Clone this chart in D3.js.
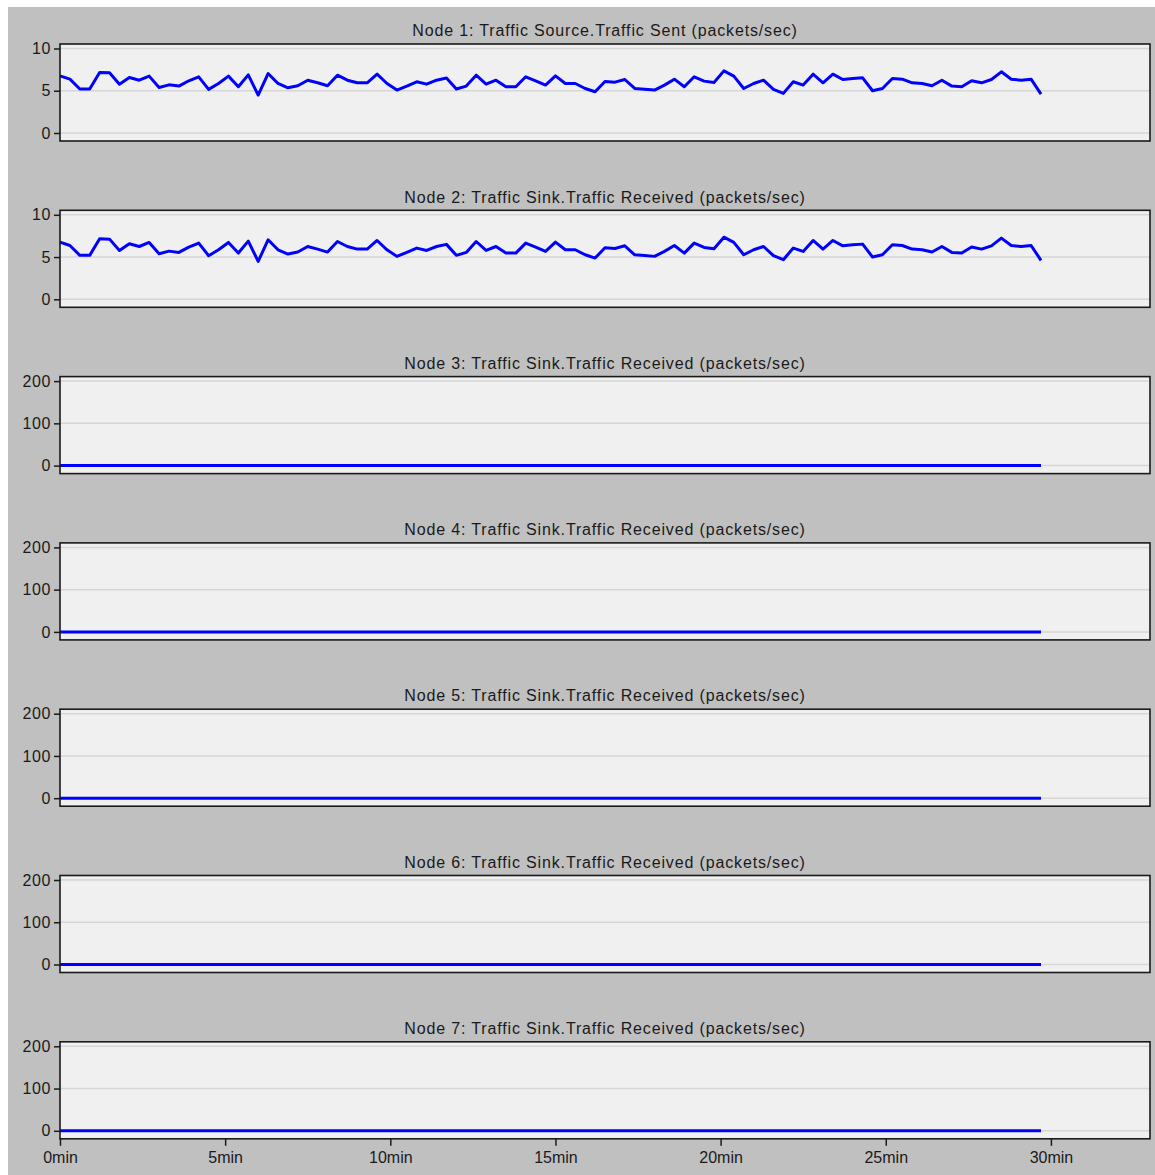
<!DOCTYPE html>
<html>
<head>
<meta charset="utf-8">
<script src="https://cdn.jsdelivr.net/npm/d3@7"></script>
<style>
  html, body { margin: 0; padding: 0; background: #ffffff; }
  svg { display: block; }
  text { font-family: "Liberation Sans", Arial, sans-serif; fill: #1a1a1a; }
</style>
</head>
<body>
<svg id="chart" width="1155" height="1175"></svg>
<script>
// Sampling: one bucket every 18 s (0.3 min), 100 buckets over the 30 min run
const sampleStepMin = 0.3;

// Node 1 traffic sent (packets/sec)
const node1Sent = [
  6.76, 6.37, 5.20, 5.20, 7.16, 7.12, 5.78, 6.57, 6.25, 6.73,
  5.39, 5.70, 5.55, 6.18, 6.65, 5.16, 5.86, 6.73, 5.47, 6.88,
  4.49, 7.04, 5.86, 5.35, 5.59, 6.25, 5.94, 5.59, 6.84, 6.25,
  5.94, 5.94, 6.96, 5.86, 5.08, 5.55, 6.06, 5.78, 6.25, 6.50,
  5.20, 5.55, 6.84, 5.78, 6.25, 5.47, 5.47, 6.65, 6.18, 5.67,
  6.76, 5.86, 5.86, 5.27, 4.88, 6.10, 6.02, 6.33, 5.27, 5.18,
  5.08, 5.67, 6.37, 5.47, 6.65, 6.14, 5.98, 7.35, 6.73, 5.27,
  5.86, 6.25, 5.16, 4.69, 6.06, 5.67, 6.96, 5.94, 6.96, 6.33,
  6.45, 6.53, 5.00, 5.27, 6.45, 6.37, 5.94, 5.86, 5.59, 6.25,
  5.55, 5.47, 6.18, 5.94, 6.33, 7.24, 6.37, 6.25, 6.37, 4.61
];

// Node 2 traffic received (packets/sec)
const node2Received = [
  6.76, 6.37, 5.20, 5.20, 7.16, 7.12, 5.78, 6.57, 6.25, 6.73,
  5.39, 5.70, 5.55, 6.18, 6.65, 5.16, 5.86, 6.73, 5.47, 6.88,
  4.49, 7.04, 5.86, 5.35, 5.59, 6.25, 5.94, 5.59, 6.84, 6.25,
  5.94, 5.94, 6.96, 5.86, 5.08, 5.55, 6.06, 5.78, 6.25, 6.50,
  5.20, 5.55, 6.84, 5.78, 6.25, 5.47, 5.47, 6.65, 6.18, 5.67,
  6.76, 5.86, 5.86, 5.27, 4.88, 6.10, 6.02, 6.33, 5.27, 5.18,
  5.08, 5.67, 6.37, 5.47, 6.65, 6.14, 5.98, 7.35, 6.73, 5.27,
  5.86, 6.25, 5.16, 4.69, 6.06, 5.67, 6.96, 5.94, 6.96, 6.33,
  6.45, 6.53, 5.00, 5.27, 6.45, 6.37, 5.94, 5.86, 5.59, 6.25,
  5.55, 5.47, 6.18, 5.94, 6.33, 7.24, 6.37, 6.25, 6.37, 4.61
];

// Nodes 3-7 received nothing during the run
const sinkIdle = [
  0,0,0,0,0,0,0,0,0,0, 0,0,0,0,0,0,0,0,0,0,
  0,0,0,0,0,0,0,0,0,0, 0,0,0,0,0,0,0,0,0,0,
  0,0,0,0,0,0,0,0,0,0, 0,0,0,0,0,0,0,0,0,0,
  0,0,0,0,0,0,0,0,0,0, 0,0,0,0,0,0,0,0,0,0,
  0,0,0,0,0,0,0,0,0,0, 0,0,0,0,0,0,0,0,0,0
];

const panelTitles = [
  "Node 1: Traffic Source.Traffic Sent (packets/sec)",
  "Node 2: Traffic Sink.Traffic Received (packets/sec)",
  "Node 3: Traffic Sink.Traffic Received (packets/sec)",
  "Node 4: Traffic Sink.Traffic Received (packets/sec)",
  "Node 5: Traffic Sink.Traffic Received (packets/sec)",
  "Node 6: Traffic Sink.Traffic Received (packets/sec)",
  "Node 7: Traffic Sink.Traffic Received (packets/sec)"
];
const panelSeries = [node1Sent, node2Received, sinkIdle, sinkIdle, sinkIdle, sinkIdle, sinkIdle];
const panelYTicks = [[0, 5, 10], [0, 5, 10], [0, 100, 200], [0, 100, 200], [0, 100, 200], [0, 100, 200], [0, 100, 200]];
const xTickMinutes = [0, 5, 10, 15, 20, 25, 30];

const svg = d3.select("#chart");
const W = 1155, H = 1175;

// grey window backdrop
svg.append("rect").attr("x", 8).attr("y", 7).attr("width", W - 8).attr("height", H - 7).attr("fill", "#c0c0c0");

const plotLeft = 60, plotRight = 1150;
const firstTop = 44, panelStep = 166.3, plotH = 97;
const maxOffset = 4.5;   // distance from box top to the top tick
const zeroOffset = 89;   // distance from box top to the zero line

const x = d3.scaleLinear().domain([0, 33.0]).range([plotLeft, plotRight]);

panelSeries.forEach((series, p) => {
  const top = firstTop + p * panelStep;
  const ticks = panelYTicks[p];
  const yMax = ticks[ticks.length - 1];
  const y = d3.scaleLinear().domain([0, yMax]).range([top + zeroOffset, top + maxOffset]);

  const g = svg.append("g");

  // title
  g.append("text")
    .attr("x", (plotLeft + plotRight) / 2)
    .attr("y", top - 12)
    .attr("text-anchor", "middle")
    .attr("dominant-baseline", "middle")
    .attr("font-size", 16)
    .attr("letter-spacing", 0.85)
    .text(panelTitles[p]);

  // plot area
  g.append("rect")
    .attr("x", plotLeft).attr("y", top)
    .attr("width", plotRight - plotLeft).attr("height", plotH)
    .attr("fill", "#f0f0f0");

  // horizontal grid
  g.selectAll(".grid").data(ticks).enter().append("line")
    .attr("x1", plotLeft).attr("x2", plotRight)
    .attr("y1", d => y(d)).attr("y2", d => y(d))
    .attr("stroke", "#d6d6d6").attr("stroke-width", 1.5);

  // y axis
  const yAxis = d3.axisLeft(y).tickValues(ticks).tickSize(6).tickPadding(3).tickFormat(d3.format("d"));
  const ya = g.append("g").attr("transform", `translate(${plotLeft},0)`).call(yAxis);
  ya.select(".domain").remove();
  ya.selectAll(".tick line").attr("stroke", "#1a1a1a").attr("stroke-width", 1.5);
  ya.selectAll(".tick text").attr("font-size", 16).attr("letter-spacing", 0.6)
    .attr("font-family", "Liberation Sans, Arial, sans-serif").attr("fill", "#1a1a1a");

  // series line
  const line = d3.line()
    .x((d, i) => x(i * sampleStepMin))
    .y(d => y(d));
  g.append("path")
    .datum(series)
    .attr("d", line)
    .attr("fill", "none")
    .attr("stroke", "#0000ff")
    .attr("stroke-width", 3)
    .attr("stroke-linejoin", "round");

  // frame
  g.append("rect")
    .attr("x", plotLeft).attr("y", top)
    .attr("width", plotRight - plotLeft).attr("height", plotH)
    .attr("fill", "none").attr("stroke", "#1a1a1a").attr("stroke-width", 1.6);

  // time axis under the last panel
  if (p === panelSeries.length - 1) {
    const xAxis = d3.axisBottom(x).tickValues(xTickMinutes).tickSize(7).tickPadding(6).tickFormat(d => d + "min");
    const xa = g.append("g").attr("transform", `translate(0,${top + plotH})`).call(xAxis);
    xa.select(".domain").remove();
    xa.selectAll(".tick line").attr("stroke", "#1a1a1a").attr("stroke-width", 1.5);
    xa.selectAll(".tick text").attr("font-size", 16)
      .attr("font-family", "Liberation Sans, Arial, sans-serif").attr("fill", "#1a1a1a");
  }
});
</script>
</body>
</html>
